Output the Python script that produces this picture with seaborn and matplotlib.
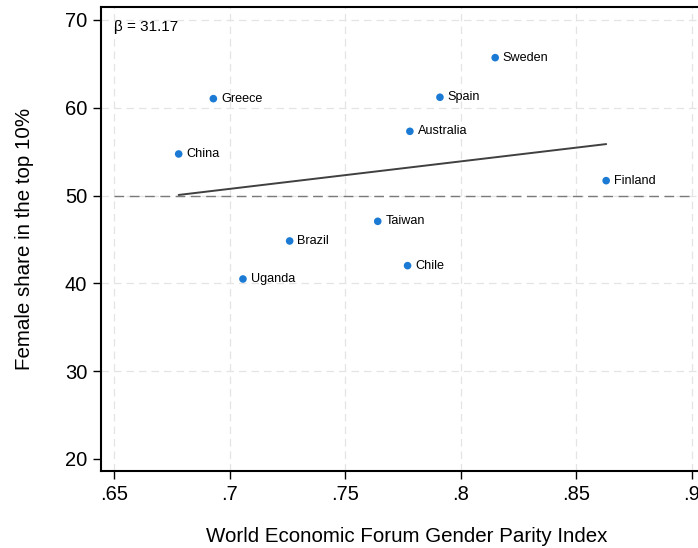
import numpy as np
import pandas as pd
import matplotlib
matplotlib.use("Agg")
import matplotlib.pyplot as plt
import seaborn as sns

# Data
countries = ['Greece', 'China', 'Brazil', 'Uganda', 'Sweden', 'Spain',
             'Australia', 'Finland', 'Taiwan', 'Chile']
parity_index = [0.6930, 0.6780, 0.7260, 0.7058, 0.8149, 0.7910,
                0.7780, 0.8629, 0.7641, 0.7770]
female_share = [61.04, 54.74, 44.83, 40.50, 65.71, 61.20,
                57.32, 51.70, 47.07, 42.02]
x_ticks = [0.65, 0.70, 0.75, 0.80, 0.85, 0.90]
x_tick_labels = ['.65', '.7', '.75', '.8', '.85', '.9']
y_ticks = [20, 30, 40, 50, 60, 70]
beta_text = 'β = 31.17'

df = pd.DataFrame({'country': countries, 'gpi': parity_index, 'share': female_share})

sns.set_style('white')
plt.rcParams['font.family'] = ['Liberation Sans', 'DejaVu Sans']
plt.rcParams['text.color'] = 'black'
plt.rcParams['axes.labelcolor'] = 'black'
plt.rcParams['xtick.color'] = 'black'
plt.rcParams['ytick.color'] = 'black'

fig = plt.figure(figsize=(6.98, 5.48), dpi=100)
ax = fig.add_axes([101 / 698, 77 / 548, 612 / 698, 464 / 548])

# light dashed grid
for xt in x_ticks:
    ax.axvline(xt, color='#e4e4e4', linestyle=(0, (6, 4)), linewidth=0.9, zorder=0)
for yt in y_ticks[1:]:
    ax.axhline(yt, color='#e4e4e4', linestyle=(0, (6, 4)), linewidth=0.9, zorder=0)

# reference line at 50
ax.plot([0.65, 0.90], [50, 50], color='#7a7a7a', linestyle=(0, (7, 4)),
        linewidth=1.0, zorder=1)

# OLS fit line
sns.regplot(data=df, x='gpi', y='share', scatter=False, ci=None, truncate=True,
            line_kws={'color': '#404040', 'linewidth': 1.4}, ax=ax)

sns.scatterplot(data=df, x='gpi', y='share', color='#1a7ad4', s=30,
                edgecolor='none', ax=ax, zorder=3)

for _, row in df.iterrows():
    ax.annotate(row['country'], (row['gpi'], row['share']), xytext=(5.5, 0),
                textcoords='offset points', va='center', ha='left', fontsize=9.1,
                color='black')

ax.text(0.022, 0.972, beta_text, transform=ax.transAxes, va='top', ha='left',
        fontsize=11, color='black')

ax.set_xlim(0.6444, 0.6444 + 612 / 2312)
ax.set_ylim(18.63, 71.48)
ax.set_xticks(x_ticks)
ax.set_xticklabels(x_tick_labels)
ax.set_yticks(y_ticks)
ax.tick_params(axis='both', direction='out', length=6, width=1, labelsize=14.5,
               color='black', labelcolor='black', bottom=True, left=True, pad=4)

for side in ['left', 'bottom', 'top']:
    ax.spines[side].set_color('black')
    ax.spines[side].set_linewidth(1.5)
ax.spines['right'].set_visible(False)

ax.set_xlabel('World Economic Forum Gender Parity Index', fontsize=14.8,
              labelpad=17, color='black')
ax.set_ylabel('Female share in the top 10%', fontsize=14.8, labelpad=22,
              color='black')

fig.savefig('out.png', dpi=100)
